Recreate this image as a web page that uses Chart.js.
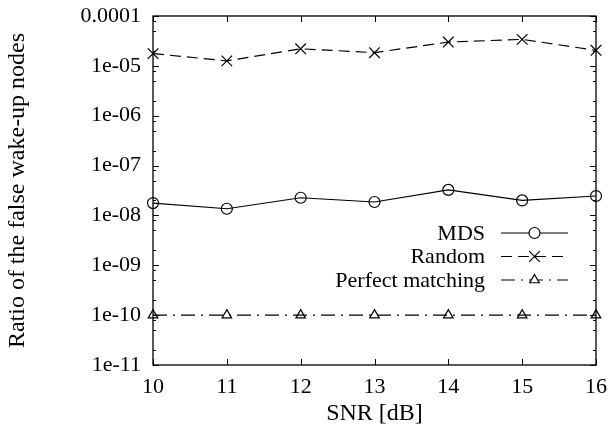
<!DOCTYPE html>
<html>
<head>
<meta charset="utf-8">
<script src="https://cdn.jsdelivr.net/npm/chart.js@4"></script>
<style>
  html,body{margin:0;padding:0;background:#fff;}
  #wrap{width:616px;height:438px;}
</style>
</head>
<body>
<div id="wrap"><canvas id="chart" width="616" height="438"></canvas></div>
<script>
/* ---------- данные ---------- */
const snr = [10, 11, 12, 13, 14, 15, 16];
const mds = [1.77e-8, 1.36e-8, 2.26e-8, 1.86e-8, 3.25e-8, 2.0e-8, 2.45e-8];
const random = [1.76e-5, 1.26e-5, 2.2e-5, 1.84e-5, 3.0e-5, 3.4e-5, 2.05e-5];
const perfect = [1e-10, 1e-10, 1e-10, 1e-10, 1e-10, 1e-10, 1e-10];
const yTicks = [1e-11, 1e-10, 1e-9, 1e-8, 1e-7, 1e-6, 1e-5, 1e-4];
const yTickLabels = ['1e-11', '1e-10', '1e-09', '1e-08', '1e-07', '1e-06', '1e-05', '0.0001'];
const minorMult = [2, 5, 8];

const FONT = "'Liberation Serif', 'DejaVu Serif', serif";
const fnt = {family: FONT, size: 22};
const titleFnt = {family: FONT, size: 24};

/* ---------- рамка и засечки внутрь (как в gnuplot) ---------- */
const framePlugin = {
  id: 'frame',
  afterDatasetsDraw(chart){
    const {ctx, chartArea: a, scales: {x, y}} = chart;
    ctx.save();
    ctx.strokeStyle = '#000';
    ctx.lineWidth = 1.3;
    ctx.strokeRect(a.left, a.top, a.right - a.left, a.bottom - a.top);
    ctx.lineWidth = 1;
    ctx.beginPath();
    snr.forEach(v => {
      const px = Math.round(x.getPixelForValue(v)) + 0.5;
      ctx.moveTo(px, a.bottom); ctx.lineTo(px, a.bottom - 6);
      ctx.moveTo(px, a.top); ctx.lineTo(px, a.top + 6);
    });
    yTicks.forEach((v, i) => {
      const py = Math.round(y.getPixelForValue(v)) + 0.5;
      ctx.moveTo(a.left, py); ctx.lineTo(a.left + 6, py);
      ctx.moveTo(a.right, py); ctx.lineTo(a.right - 6, py);
      if(i < yTicks.length - 1){
        minorMult.forEach(m => {
          const q = Math.round(y.getPixelForValue(v * m)) + 0.5;
          ctx.moveTo(a.left, q); ctx.lineTo(a.left + 3, q);
          ctx.moveTo(a.right, q); ctx.lineTo(a.right - 3, q);
        });
      }
    });
    ctx.stroke();
    ctx.restore();
  }
};

/* ---------- легенда справа, текст перед образцом линии ---------- */
const keyPlugin = {
  id: 'key',
  afterDraw(chart){
    const {ctx, chartArea: a} = chart;
    const textRight = a.right - 111;
    const x0 = a.right - 95, x1 = a.right - 28;
    ctx.save();
    ctx.font = `22px ${FONT}`;
    ctx.textAlign = 'right';
    ctx.textBaseline = 'middle';
    chart.data.datasets.forEach((ds, i) => {
      const yy = a.top + 217 + i * 23.5;
      ctx.fillStyle = '#000';
      ctx.fillText(ds.label, textRight, yy + 1);
      ctx.strokeStyle = '#000';
      ctx.lineWidth = ds.borderWidth;
      ctx.setLineDash(ds.borderDash || []);
      ctx.beginPath();
      ctx.moveTo(x0, yy); ctx.lineTo(x1, yy);
      ctx.stroke();
      ctx.setLineDash([]);
      ctx.lineWidth = 1.2;
      ctx.fillStyle = '#fff';
      Chart.helpers.drawPoint(ctx, {
        pointStyle: ds.pointStyle, radius: ds.pointRadius, rotation: 0, borderWidth: 1.2
      }, (x0 + x1) / 2, yy);
    });
    ctx.restore();
  }
};

const common = {
  borderColor: '#000', pointBorderColor: '#000', pointBackgroundColor: 'rgba(0,0,0,0)',
  borderWidth: 1.2, pointBorderWidth: 1.2, tension: 0, fill: false, clip: false
};

new Chart(document.getElementById('chart').getContext('2d'), {
  type: 'line',
  data: {
    labels: snr,
    datasets: [
      {...common, label: 'MDS', data: mds, pointStyle: 'circle', pointRadius: 5.5},
      {...common, label: 'Random', data: random, borderDash: [11, 6], pointStyle: 'crossRot', pointRadius: 7.5},
      {...common, label: 'Perfect matching', data: perfect, borderDash: [14, 6, 2, 6], pointStyle: 'triangle', pointRadius: 5.5}
    ]
  },
  options: {
    responsive: false,
    animation: false,
    events: [],
    layout: {padding: {top: 16, right: 17, left: 0, bottom: 0}},
    plugins: {legend: {display: false}, tooltip: {enabled: false}},
    scales: {
      x: {
        type: 'linear', min: 10, max: 16,
        afterBuildTicks: s => { s.ticks = snr.map(v => ({value: v})); },
        afterFit: s => { s.height = 73; },
        grid: {display: false, drawTicks: false},
        border: {display: false},
        ticks: {color: '#000', font: fnt, padding: 9, maxRotation: 0},
        title: {display: true, text: 'SNR [dB]', color: '#000', font: titleFnt, padding: {top: 0, bottom: 10}}
      },
      y: {
        type: 'logarithmic', min: 1e-11, max: 1e-4,
        afterBuildTicks: s => { s.ticks = yTicks.map(v => ({value: v})); },
        afterFit: s => { s.width = 153; s.paddingTop = 0; s.paddingBottom = 0; },
        grid: {display: false, drawTicks: false},
        border: {display: false},
        ticks: {
          color: '#000', font: fnt, padding: 12,
          callback: v => yTickLabels[yTicks.findIndex(t => Math.abs(Math.log10(t) - Math.log10(v)) < 1e-6)]
        },
        title: {display: true, text: 'Ratio of the false wake-up nodes', color: '#000', font: titleFnt, padding: {top: 3, bottom: 0}}
      }
    }
  },
  plugins: [framePlugin, keyPlugin]
});
</script>
</body>
</html>
